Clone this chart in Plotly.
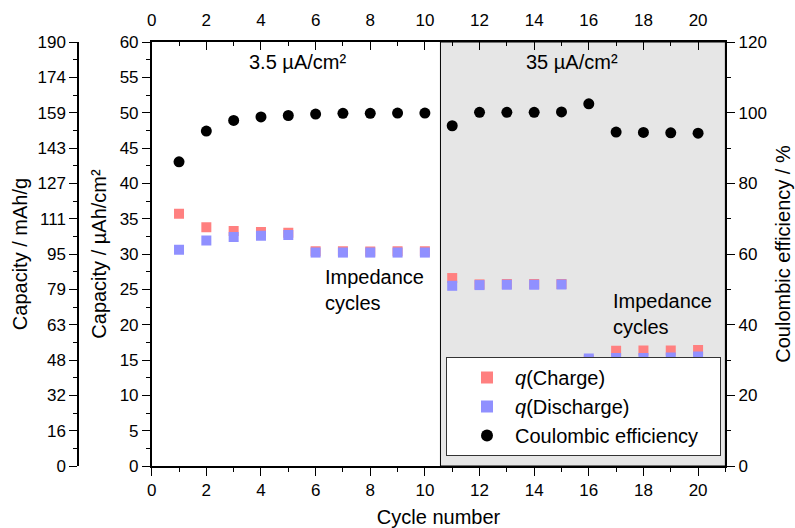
import plotly.graph_objects as go

cycles = list(range(1, 21))
charge = [35.7, 33.8, 33.25, 33.1, 33.0, 30.4, 30.4, 30.35, 30.4, 30.4,
          26.6, 25.7, 25.75, 25.75, 25.75, 14.95, 16.3, 16.35, 16.35, 16.4]
discharge = [30.6, 31.9, 32.4, 32.6, 32.7, 30.2, 30.2, 30.2, 30.2, 30.2,
             25.5, 25.6, 25.65, 25.65, 25.7, 15.2, 15.3, 15.3, 15.35, 15.5]
ce = [86.1, 94.8, 97.8, 98.8, 99.2, 99.6, 99.8, 99.8, 99.9, 99.9,
      96.3, 100.1, 100.1, 100.1, 100.2, 102.5, 94.5, 94.4, 94.3, 94.2]

areal_ticks = [0, 5, 10, 15, 20, 25, 30, 35, 40, 45, 50, 55, 60]
mass_labels = ["0", "16", "32", "48", "63", "79", "95", "111", "127", "143", "159", "174", "190"]
ce_ticks = [0, 20, 40, 60, 80, 100, 120]

FONT = "Liberation Sans, Arial, sans-serif"
W, H = 795, 528
T, B = 42, 62
x0px, x1px = 151.7, 725.4
dom = [x0px / W, x1px / W]
mass_pos = 78 / W
ph = H - T - B

fig = go.Figure()
fig.add_trace(go.Scatter(x=cycles, y=charge, mode="markers", name="<i>q</i>(Charge)",
                         marker=dict(symbol="square", size=10, color="#ff8080"),
                         xaxis="x", yaxis="y"))
fig.add_trace(go.Scatter(x=cycles, y=discharge, mode="markers", name="<i>q</i>(Discharge)",
                         marker=dict(symbol="square", size=10, color="#9090ff"),
                         xaxis="x", yaxis="y"))
fig.add_trace(go.Scatter(x=cycles, y=ce, mode="markers",
                         name="Coulombic efficiency&nbsp;&nbsp;&nbsp;",
                         marker=dict(symbol="circle", size=11, color="black"),
                         xaxis="x", yaxis="y3"))
fig.add_trace(go.Scatter(x=[None], y=[None], xaxis="x2", yaxis="y", showlegend=False, hoverinfo="skip"))
fig.add_trace(go.Scatter(x=[None], y=[None], xaxis="x", yaxis="y2", showlegend=False, hoverinfo="skip"))

fig.add_shape(type="rect", xref="x", yref="y", x0=10.57, x1=21, y0=0, y1=60,
              fillcolor="#e6e6e6", line=dict(color="black", width=1), layer="below")

tick = dict(color="black", size=17, family=FONT)
title_font = dict(color="black", size=20, family=FONT)
common = dict(tickcolor="black", showline=True, linecolor="black", linewidth=1.5,
              showgrid=False, zeroline=False, tickfont=tick, automargin=False, ticklen=8)

fig.update_layout(
    width=W, height=H,
    margin=dict(l=0, r=0, t=T, b=B),
    paper_bgcolor="white", plot_bgcolor="white",
    font=dict(family=FONT, color="black"),
    xaxis=dict(domain=dom, range=[0, 21], dtick=2, tick0=0, ticks="outside", **common,
               minor=dict(dtick=1, tick0=0, ticks="outside", ticklen=4, tickcolor="black"),
               title=dict(text="Cycle number", font=title_font, standoff=14)),
    xaxis2=dict(domain=dom, range=[0, 21], dtick=2, tick0=0, overlaying="x", side="top",
                anchor="y", ticks="inside", ticklabelstandoff=7, **common,
                minor=dict(dtick=1, tick0=0, ticks="inside", ticklen=4, tickcolor="black")),
    yaxis=dict(domain=[0, 1], range=[0, 60], tickvals=areal_ticks, ticks="outside", anchor="x",
               **common,
               minor=dict(dtick=2.5, tick0=0, ticks="outside", ticklen=4, tickcolor="black"),
               title=dict(text="Capacity / µAh/cm²", font=title_font, standoff=8)),
    yaxis2=dict(range=[0, 60], overlaying="y", anchor="free", position=mass_pos, side="left",
                tickvals=areal_ticks, ticktext=mass_labels, ticks="outside", **common,
                minor=dict(tickvals=[v + 2.5 for v in areal_ticks[:-1]], ticks="outside",
                           ticklen=4, tickcolor="black"),
                title=dict(text="Capacity / mAh/g", font=title_font, standoff=3)),
    yaxis3=dict(range=[0, 120], overlaying="y", anchor="x", side="right", tickvals=ce_ticks,
                ticks="outside", **common,
                minor=dict(dtick=10, tick0=0, ticks="outside", ticklen=4, tickcolor="black"),
                title=dict(text="Coulombic efficiency / %", font=title_font, standoff=10)),
    legend=dict(x=721 / W, xanchor="right", y=(466 - 456) / ph, yanchor="bottom",
                bgcolor="white", bordercolor="#333333", borderwidth=1,
                font=dict(size=20, family=FONT, color="black"), indentation=12,
                itemwidth=46, tracegroupgap=0, itemsizing="constant"),
    showlegend=True,
)

ann_font = dict(size=20, family=FONT, color="black")
fig.add_annotation(x=5.35, y=57.2, xref="x", yref="y", text="3.5 µA/cm²", showarrow=False, font=ann_font)
fig.add_annotation(x=15.4, y=57.2, xref="x", yref="y", text="35 µA/cm²", showarrow=False, font=ann_font)
fig.add_annotation(x=6.26, y=24.9, xref="x", yref="y", text="Impedance<br>cycles", showarrow=False,
                   xanchor="left", align="left", font=ann_font)
fig.add_annotation(x=16.82, y=21.5, xref="x", yref="y", text="Impedance<br>cycles", showarrow=False,
                   xanchor="left", align="left", font=ann_font)

fig.write_html("out.html", config={"displayModeBar": False},
               post_script="document.body.style.margin='0';document.body.style.overflow='hidden';")
